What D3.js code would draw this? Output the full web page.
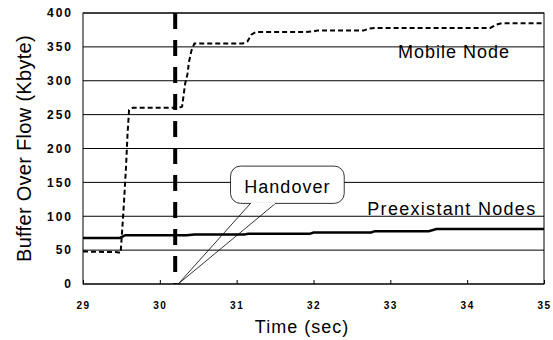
<!DOCTYPE html>
<html>
<head>
<meta charset="utf-8">
<script src="https://cdn.jsdelivr.net/npm/d3@7"></script>
<style>
  body { margin: 0; background: #fff; }
  text { font-family: "Liberation Sans", Arial, sans-serif; fill: #000; }
</style>
</head>
<body>
<figure id="graph" style="margin:0"></figure>
<script>
// data
const mobileTime = [29, 29.45, 29.49, 29.51, 29.53, 29.56, 29.58, 29.6, 29.65, 30.25, 30.29, 30.31, 30.33, 30.36, 30.38, 30.41, 30.45, 31.08, 31.14, 31.19, 31.25, 31.9, 32.0, 32.05, 32.65, 32.72, 32.8, 34.3, 34.38, 34.45, 35]
const mobileBuf  = [48, 47, 46, 80, 114, 173, 222, 257, 260, 260, 262, 279, 296, 310, 328, 344, 355, 355, 358, 368, 372, 372, 373, 374, 374, 377, 378, 378, 383, 385, 385]

const preTime = [29, 29.48, 29.55, 30.35, 30.45, 31.1, 31.15, 31.95, 32.0, 32.75, 32.8, 33.5, 33.6, 35]
const preBuf  = [68, 68, 72, 72, 73, 73, 74, 74, 76, 76, 78, 78, 81, 81]

const xTicks = [29, 30, 31, 32, 33, 34, 35]
const yTicks = [0, 50, 100, 150, 200, 250, 300, 350, 400]
const handoverTime = 30.2

const width = 553, height = 340
const margin = { left: 83, right: 9, top: 13, bottom: 56 }

const svg = d3.select('figure#graph')
  .append('svg')
  .attr('width', width)
  .attr('height', height)

const xScale = d3.scaleLinear()
  .domain([29, 35])
  .range([margin.left, width - margin.right])

const yScale = d3.scaleLinear()
  .domain([0, 400])
  .range([height - margin.bottom, margin.top])

const x0 = xScale.range()[0], x1 = xScale.range()[1]
const yBot = yScale(0), yTop = yScale(400)

// horizontal grid lines
svg.append('g')
  .selectAll('line')
  .data(yTicks)
  .join('line')
  .attr('x1', x0)
  .attr('x2', x1)
  .attr('y1', d => yScale(d))
  .attr('y2', d => yScale(d))
  .attr('stroke', '#000')
  .attr('stroke-width', 1)

// frame
svg.append('rect')
  .attr('x', x0)
  .attr('y', yTop)
  .attr('width', x1 - x0)
  .attr('height', yBot - yTop)
  .attr('fill', 'none')
  .attr('stroke', '#000')
  .attr('stroke-width', 1)

// x axis, small ticks pointing inward
svg.append('g')
  .attr('transform', `translate(0, ${yBot})`)
  .call(d3.axisBottom(xScale).tickValues(xTicks).tickSize(-4).tickPadding(18).tickFormat(d3.format('d')))
  .call(g => g.select('.domain').remove())
  .call(g => g.selectAll('.tick line').attr('stroke', '#000'))
  .call(g => g.selectAll('.tick text')
    .attr('font-size', 10)
    .attr('font-weight', 'bold')
    .attr('letter-spacing', 1.5)
    .attr('font-family', '"Liberation Sans", Arial, sans-serif'))

// y axis labels
svg.append('g')
  .attr('transform', `translate(${x0}, 0)`)
  .call(d3.axisLeft(yScale).tickValues(yTicks).tickSize(0).tickPadding(10))
  .call(g => g.select('.domain').remove())
  .call(g => g.selectAll('.tick text')
    .attr('font-size', 12)
    .attr('font-weight', 'bold')
    .attr('letter-spacing', 2)
    .attr('font-family', '"Liberation Sans", Arial, sans-serif'))

// handover marker
svg.append('line')
  .attr('x1', xScale(handoverTime))
  .attr('x2', xScale(handoverTime))
  .attr('y1', yTop)
  .attr('y2', yBot)
  .attr('stroke', '#000')
  .attr('stroke-width', 4)
  .attr('stroke-dasharray', '16,11')

const line = d3.line()
  .x(d => xScale(d[0]))
  .y(d => yScale(d[1]))

svg.append('path')
  .datum(preTime.map((t, i) => [t, preBuf[i]]))
  .attr('fill', 'none')
  .attr('stroke', '#000')
  .attr('stroke-width', 2.5)
  .attr('d', line)

svg.append('path')
  .datum(mobileTime.map((t, i) => [t, mobileBuf[i]]))
  .attr('fill', 'none')
  .attr('stroke', '#000')
  .attr('stroke-width', 2)
  .attr('stroke-dasharray', '5,3')
  .attr('d', line)

// series labels
svg.append('text')
  .attr('x', xScale(33.1))
  .attr('y', yScale(333))
  .attr('font-size', 18)
  .attr('letter-spacing', 1)
  .text('Mobile Node')

svg.append('text')
  .attr('x', xScale(32.7))
  .attr('y', yScale(102))
  .attr('font-size', 18)
  .attr('letter-spacing', 1.3)
  .text('Preexistant Nodes')

// callout bubble
const bx0 = xScale(30.92), bx1 = xScale(32.4)
const by0 = yScale(174), by1 = yScale(119)
const tipX = xScale(handoverTime) + 3, tipY = yBot

svg.append('path')
  .attr('d', `M${bx0 + 20},${by1} L${tipX},${tipY} L${bx0 + 45},${by1}`)
  .attr('fill', 'none')
  .attr('stroke', '#000')
  .attr('stroke-width', 0.8)

svg.append('rect')
  .attr('x', bx0)
  .attr('y', by0)
  .attr('width', bx1 - bx0)
  .attr('height', by1 - by0)
  .attr('rx', 10)
  .attr('fill', '#fff')
  .attr('stroke', '#000')
  .attr('stroke-width', 0.8)

// hide the rect edge where the pointer joins
svg.append('line')
  .attr('x1', bx0 + 20.5)
  .attr('x2', bx0 + 44.5)
  .attr('y1', by1)
  .attr('y2', by1)
  .attr('stroke', '#fff')
  .attr('stroke-width', 1.5)

svg.append('text')
  .attr('x', (bx0 + bx1) / 2)
  .attr('y', by1 - 10)
  .attr('text-anchor', 'middle')
  .attr('font-size', 18)
  .attr('letter-spacing', 1)
  .text('Handover')

// axis titles
svg.append('text')
  .attr('transform', `translate(31, ${(yTop + yBot) / 2}) rotate(-90)`)
  .attr('text-anchor', 'middle')
  .attr('font-size', 20)
  .attr('letter-spacing', 0.3)
  .text('Buffer Over Flow (Kbyte)')

svg.append('text')
  .attr('x', 302)
  .attr('y', 333)
  .attr('text-anchor', 'middle')
  .attr('font-size', 18)
  .attr('letter-spacing', 1)
  .text('Time (sec)')
</script>
</body>
</html>
